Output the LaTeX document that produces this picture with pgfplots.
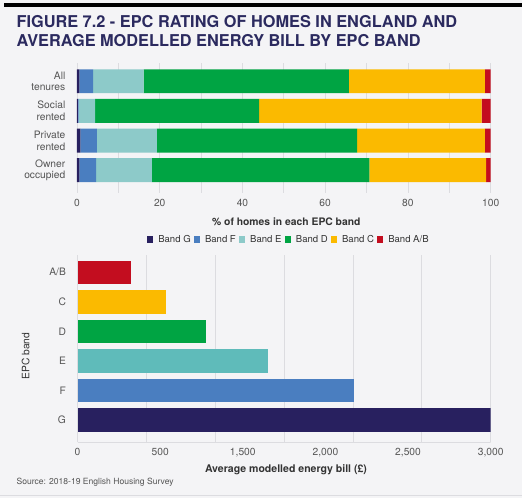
\documentclass[border=0pt]{standalone}
\usepackage{fontspec}
\setmainfont{TeX Gyre Heros}
\usepackage{pgfplots}
\pgfplotsset{compat=1.18}
\definecolor{bg}{HTML}{F4F4F6}
\definecolor{ybar}{HTML}{F2BE22}
\definecolor{titlecol}{HTML}{2B2A5F}
\definecolor{ticktext}{HTML}{555555}
\definecolor{labtext}{HTML}{333333}
\definecolor{gridcol}{HTML}{DCDCE0}
\definecolor{bG}{HTML}{28205F}
\definecolor{bF}{HTML}{4A7EC0}
\definecolor{bEt}{HTML}{8DCAC9}
\definecolor{bE}{HTML}{5FBBBA}
\definecolor{bD}{HTML}{00A443}
\definecolor{bC}{HTML}{FBBA00}
\definecolor{bAB}{HTML}{C30D1F}
\begin{document}
\begin{tikzpicture}[x=1bp,y=1bp]
\fill[bg] (0,0) rectangle (522,499);
\fill[ybar] (4,492) rectangle (522,496);
\draw[gridcol, line width=0.8bp] (0,2.5) -- (522,2.5);
\node[anchor=base west, inner sep=0, text=titlecol, font=\bfseries\fontsize{16.4}{18}\selectfont] at (16,471.7) {FIGURE 7.2 - EPC RATING OF HOMES IN ENGLAND AND};
\node[anchor=base west, inner sep=0, text=titlecol, font=\bfseries\fontsize{16.4}{18}\selectfont] at (16,452.3) {AVERAGE MODELLED ENERGY BILL BY EPC BAND};
\node[anchor=west, inner sep=0, text=ticktext, font=\fontsize{8.6}{10}\selectfont] at (16,15.7) {Source: 2018-19 English Housing Survey};

\begin{axis}[
  at={(76.7bp,305.7bp)}, anchor=south west,
  scale only axis, width=414.3bp, height=130.3bp,
  xbar stacked, bar width=24bp,
  xmin=0, xmax=100, ymin=-0.77, ymax=3.62,
  ytick={0,1,2,3},
  yticklabels={{Owner\\occupied},{Private\\rented},{Social\\rented},{All\\tenures}},
  yticklabel style={align=right, inner xsep=0pt, xshift=-11.5bp, font=\fontsize{10.3}{11.7}\selectfont, text=ticktext},
  xtick={0,20,...,100}, minor xtick={10,30,...,90},
  xmajorgrids, xminorgrids,
  major grid style={gridcol, line width=0.8bp}, minor grid style={gridcol, line width=0.8bp},
  major tick length=0pt, minor tick length=0pt,
  axis line style={draw=none},
  /pgf/number format/assume math mode=true,
  xticklabel style={yshift=-3bp, font=\fontsize{10.3}{11.7}\selectfont, text=ticktext},
  xlabel={\bfseries \% of homes in each EPC band},
  xlabel style={at={(axis description cs:0.506,-0.218)}, anchor=center, font=\fontsize{10.4}{11.7}\selectfont, text=labtext},
  legend columns=-1,
  legend style={at={(0.512,-0.358)}, anchor=center, draw=none, fill=none,
    font=\fontsize{9.6}{11}\selectfont, text=labtext,
    /tikz/every even column/.append style={column sep=1bp},
    /tikz/every odd column/.append style={column sep=3bp}},
  legend image code/.code={\fill[#1] (0bp,-3.2bp) rectangle (6.4bp,3.2bp);},
]
\addplot[draw=none, fill=bG] coordinates {(0.6,0) (0.8,1) (0.2,2) (0.6,3)};
\addplot[draw=none, fill=bF] coordinates {(4.0,0) (4.0,1) (0.2,2) (3.3,3)};
\addplot[draw=none, fill=bEt] coordinates {(13.5,0) (14.5,1) (4.0,2) (12.2,3)};
\addplot[draw=none, fill=bD] coordinates {(52.6,0) (48.4,1) (39.6,2) (49.6,3)};
\addplot[draw=none, fill=bC] coordinates {(28.2,0) (30.9,1) (53.8,2) (32.9,3)};
\addplot[draw=none, fill=bAB] coordinates {(1.1,0) (1.4,1) (2.2,2) (1.4,3)};
\legend{Band G, Band F, Band E, Band D, Band C, Band A/B}
\draw[gridcol, line width=0.8bp] (rel axis cs:0,0) -- (rel axis cs:1,0);
\end{axis}

\begin{axis}[
  at={(77.3bp,56.3bp)}, anchor=south west,
  scale only axis, width=413.7bp, height=187.7bp,
  xbar, bar width=23.5bp, bar shift=0pt,
  xmin=0, xmax=3000, ymin=-0.74, ymax=5.6,
  ytick={0,1,2,3,4,5},
  yticklabels={G,F,E,D,C,A/B},
  yticklabel style={inner xsep=0pt, xshift=-11.5bp, font=\fontsize{10.3}{11.7}\selectfont, text=ticktext},
  xtick={0,500,...,3000}, xticklabels={},
  extra x ticks={0,600,1200,1800,2400,3000},
  extra x tick labels={0,500,{1,500},{2,000},{2,500},{3,000}},
  extra x tick style={grid=none},
  xmajorgrids,
  major grid style={gridcol, line width=0.8bp},
  major tick length=0pt,
  axis line style={draw=none},
  xticklabel style={yshift=-3bp, font=\fontsize{10.3}{11.7}\selectfont, text=ticktext},
  xlabel={\bfseries Average modelled energy bill (£)},
  xlabel style={at={(axis description cs:0.5045,-0.149)}, anchor=center, font=\fontsize{10.6}{11.7}\selectfont, text=labtext},
  ylabel={EPC band},
  ylabel style={at={(axis description cs:-0.126,0.458)}, anchor=center, rotate=0, font=\fontsize{10.3}{11.7}\selectfont, text=labtext},
]
\addplot[draw=none, fill=bG] coordinates {(3000,0)};
\addplot[draw=none, fill=bF] coordinates {(2010,1)};
\addplot[draw=none, fill=bE] coordinates {(1380,2)};
\addplot[draw=none, fill=bD] coordinates {(930,3)};
\addplot[draw=none, fill=bC] coordinates {(640,4)};
\addplot[draw=none, fill=bAB] coordinates {(390,5)};
\draw[gridcol, line width=0.8bp] (rel axis cs:0,0) -- (rel axis cs:1,0);
\end{axis}
\end{tikzpicture}
\end{document}
